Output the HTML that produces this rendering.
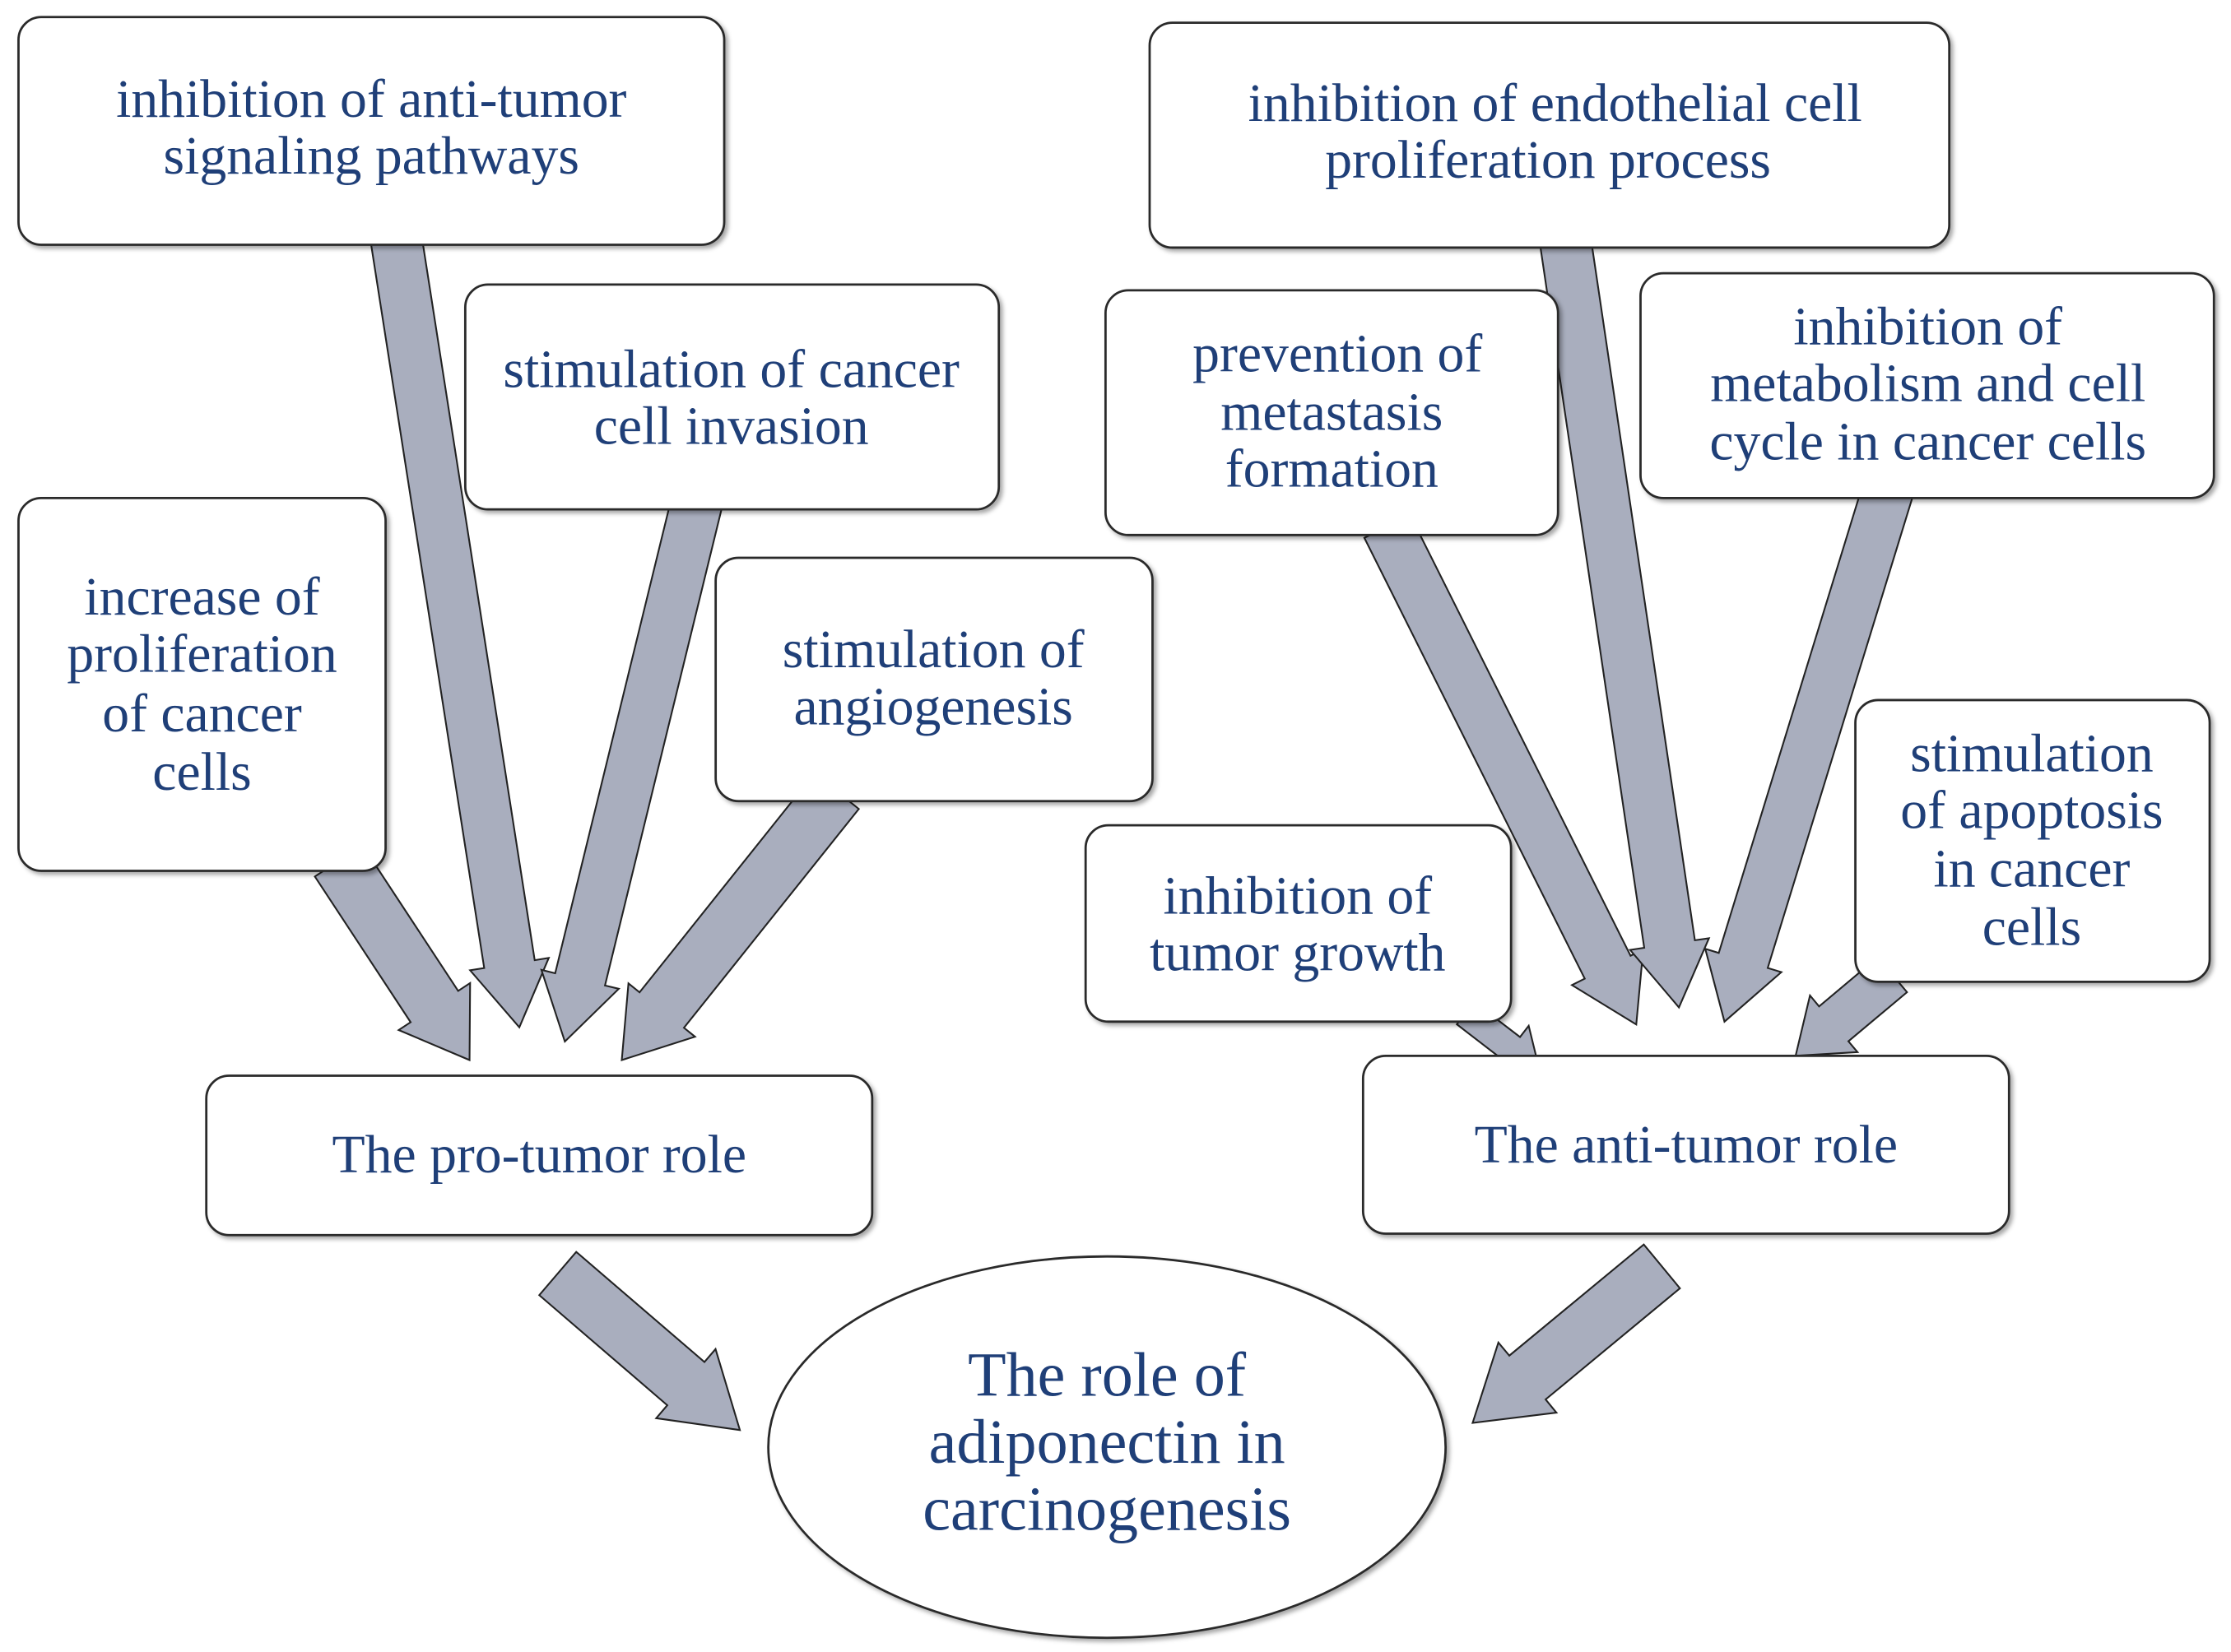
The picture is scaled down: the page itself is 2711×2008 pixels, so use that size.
<!DOCTYPE html>
<html><head><meta charset="utf-8"><style>
html,body{margin:0;padding:0;background:#fff;}
svg{display:block;}
text{font-family:"Liberation Serif",serif;fill:#1f3f78;font-size:38px;text-anchor:middle;}
</style></head><body>
<svg id="s" width="2711" height="2008" viewBox="0 0 1568 1161" preserveAspectRatio="none" xmlns="http://www.w3.org/2000/svg">
<defs>
<filter id="sh" x="-10%" y="-10%" width="130%" height="130%"><feDropShadow dx="2" dy="2" stdDeviation="1.5" flood-color="#000" flood-opacity="0.35"/></filter>
</defs>
<g id="arrows"></g>
<g fill="#fff" stroke="#2a2a2a" stroke-width="1.6" filter="url(#sh)">
<rect x="13" y="12" width="496" height="160" rx="16"/>
<rect x="327" y="200" width="375" height="158" rx="16"/>
<rect x="13" y="350" width="258" height="262" rx="16"/>
<rect x="503" y="392" width="307" height="171" rx="16"/>
<rect x="145" y="756" width="468" height="112" rx="16"/>
<rect x="808" y="16" width="562" height="158" rx="16"/>
<rect x="777" y="204" width="318" height="172" rx="16"/>
<rect x="1153" y="192" width="403" height="158" rx="16"/>
<rect x="1304" y="492" width="249" height="198" rx="16"/>
<rect x="763" y="580" width="299" height="138" rx="16"/>
<rect x="958" y="742" width="454" height="125" rx="16"/>
<ellipse cx="778" cy="1017" rx="238" ry="134"/>
</g>
<text x="261" y="82">inhibition  of anti-tumor</text>
<text x="261" y="122">signaling  pathways</text>
<text x="514" y="272">stimulation  of cancer</text>
<text x="514" y="312">cell invasion</text>
<text x="142" y="432">increase of</text>
<text x="142" y="472">proliferation</text>
<text x="142" y="514">of cancer</text>
<text x="142" y="555">cells</text>
<text x="656" y="469">stimulation  of</text>
<text x="656" y="509">angiogenesis</text>
<text x="379" y="824">The pro-tumor role</text>
<text x="1093" y="85">inhibition  of endothelial cell</text>
<text x="1088" y="125">proliferation process</text>
<text x="940" y="261">prevention of</text>
<text x="936" y="302">metastasis</text>
<text x="936" y="342">formation</text>
<text x="1355" y="242">inhibition  of</text>
<text x="1355" y="282">metabolism   and cell</text>
<text x="1355" y="323">cycle in cancer cells</text>
<text x="1428" y="542">stimulation</text>
<text x="1428" y="582">of  apoptosis</text>
<text x="1428" y="623">in cancer</text>
<text x="1428" y="664">cells</text>
<text x="912" y="642">inhibition  of</text>
<text x="912" y="682">tumor growth</text>
<text x="1185" y="817">The anti-tumor role</text>
<text x="778" y="981" style="font-size:44px">The role of</text>
<text x="778" y="1028" style="font-size:44px">adiponectin in</text>
<text x="778" y="1075" style="font-size:44px">carcinogenesis</text>
</svg>
<script>
var A=[
[278,165,365,722,18,28,45],
[490,352,397,732,18,28,45],
[588,556,437,745,20,30,45],
[238,605,330,745,20,30,45],
[392,895,520,1005,20,32,50],
[1168,890,1035,1000,20,32,50],
[975,370,1150,720,18,28,45],
[1100,168,1180,708,18,28,45],
[1327,344,1212,718,18,28,45],
[1330,685,1262,742,16,26,35],
[1030,712,1082,752,10,20,25]
];
var g=document.getElementById('arrows'),h='';
A.forEach(function(a){
var sx=a[0],sy=a[1],tx=a[2],ty=a[3],w=a[4]/1,hh=a[5],L=a[6];
var dx=tx-sx,dy=ty-sy,l=Math.sqrt(dx*dx+dy*dy),ux=dx/l,uy=dy/l,nx=-uy,ny=ux;
var bx=tx-ux*L,by=ty-uy*L;
var p=[[sx+nx*w,sy+ny*w],[bx+nx*w,by+ny*w],[bx+nx*hh,by+ny*hh],[tx,ty],[bx-nx*hh,by-ny*hh],[bx-nx*w,by-ny*w],[sx-nx*w,sy-ny*w]];
h+='<polygon points="'+p.map(function(q){return q[0].toFixed(1)+','+q[1].toFixed(1)}).join(' ')+'" fill="#a9aebe" stroke="#222" stroke-width="1.2"/>';
});
g.innerHTML=h;
</script>
</body></html>
